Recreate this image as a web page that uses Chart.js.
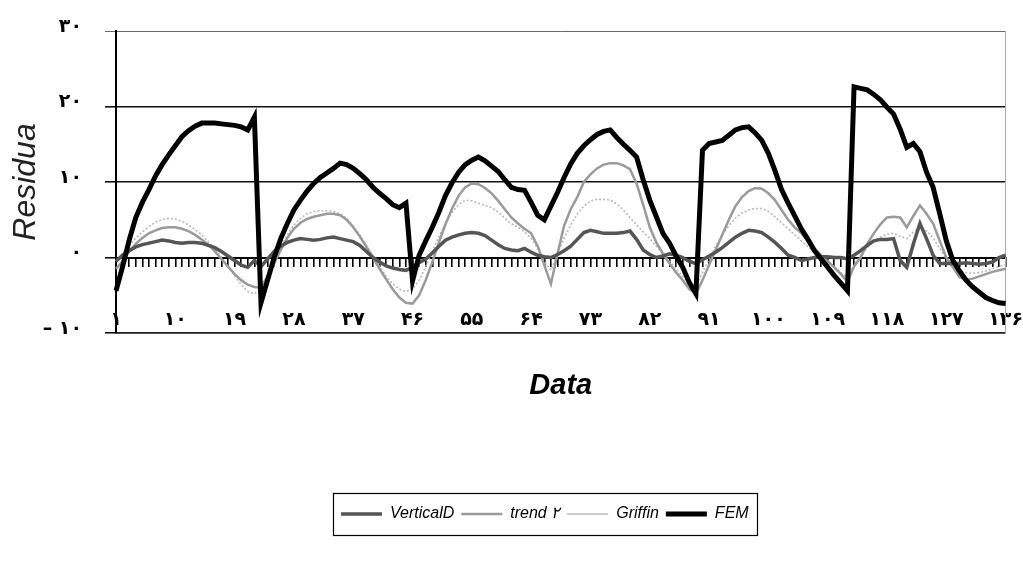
<!DOCTYPE html>
<html>
<head>
<meta charset="utf-8">
<script src="https://cdn.jsdelivr.net/npm/chart.js@4.4.0/dist/chart.umd.min.js"></script>
<style>
    html, body { margin: 0; padding: 0; background: #fff; }
    #wrap { width: 1023px; height: 582px; }
</style>
</head>
<body>
<div id="wrap"><canvas id="residualChart" width="1023" height="582"></canvas></div>
<script>
        // ── Dados ──
        const categories = Array.from({ length: 136 }, (_, i) => i + 1);
        const xTickLabels = ['۱', '۱۰', '۱۹', '۲۸', '۳۷', '۴۶', '۵۵', '۶۴', '۷۳', '۸۲', '۹۱', '۱۰۰', '۱۰۹', '۱۱۸', '۱۲۷', '۱۳۶'];
        const yTicks = [-10, 0, 10, 20, 30];
        const yTickLabels = ['– ۱۰', '۰', '۱۰', '۲۰', '۳۰'];

        const verticalD = [
            -0.5, 0.3, 0.9, 1.4, 1.7, 1.9, 2.1, 2.3, 2.2, 2.0,
            1.9, 2.0, 2.0, 1.9, 1.6, 1.3, 0.8, 0.2, -0.4, -1.0,
            -1.3, -0.4, -1.2, -0.2, 0.8, 1.5, 2.0, 2.3, 2.5, 2.4,
            2.3, 2.4, 2.6, 2.7, 2.5, 2.3, 2.1, 1.6, 0.8, 0,
            -0.6, -1.1, -1.4, -1.6, -1.7, -1.3, -0.7, -0.2, 0.6, 1.5,
            2.3, 2.7, 3.0, 3.2, 3.3, 3.2, 2.9, 2.3, 1.7, 1.2,
            1.0, 0.9, 1.2, 0.7, 0.3, 0.1, 0, 0.4, 0.9, 1.5,
            2.4, 3.3, 3.6, 3.4, 3.2, 3.2, 3.2, 3.3, 3.5, 2.4,
            1.0, 0.4, 0, 0.2, 0.5, 0.3, 0, -0.5, -0.8, -0.3,
            0.2, 0.7, 1.3, 2.0, 2.7, 3.2, 3.6, 3.5, 3.3, 2.7,
            2.0, 1.2, 0.3, 0, -0.4, -0.2, 0, 0.1, 0.1, 0,
            0, -0.2, 0.3, 0.9, 1.6, 2.2, 2.4, 2.4, 2.5, -0.4,
            -1.3, 1.8, 4.5, 2.5, 0.3, -0.8, -0.8, -0.8, -0.8, -0.7,
            -0.8, -0.9, -0.8, -0.6, 0, 0.3
        ];

        const trend2 = [
            -1.5, -0.5, 0.8, 1.8, 2.6, 3.2, 3.6, 3.9, 4.0, 4.0,
            3.8, 3.5, 3.0, 2.4, 1.7, 0.8, -0.2, -1.2, -2.2, -3.0,
            -3.6, -3.9, -4.0, -2.5, -0.8, 1.0, 2.6, 3.8, 4.6, 5.1,
            5.4, 5.6, 5.8, 5.8, 5.6, 5.0, 4.0, 2.8, 1.4, 0,
            -1.5, -2.9, -4.2, -5.3, -6.0, -6.1, -5.0, -3.0, -0.6, 2.0,
            4.4, 6.5, 8.2, 9.3, 9.8, 9.7, 9.2, 8.5, 7.5, 6.4,
            5.3, 4.5, 3.8, 3.2, 1.5, -1.0, -3.5, 0.5, 4.2, 6.4,
            8.0, 10.0, 11.0, 11.8, 12.3, 12.5, 12.5, 12.2, 11.7, 9.8,
            7.0, 4.0, 2.0, 0.5, -0.8, -2.0, -3.0, -4.2, -4.8, -3.0,
            -1.0, 1.0, 3.0, 5.0, 6.8, 8.0, 8.8, 9.2, 9.1, 8.5,
            7.6, 6.3, 5.0, 4.0, 3.2, 2.2, 1.2, 0.3, -0.5, -1.3,
            -2.2, -3.2, -1.2, 0, 1.8, 3.2, 4.4, 5.3, 5.4, 5.3,
            4.0, 5.5, 6.9, 5.8, 4.5, 2.2, 0, -1.3, -2.6, -2.9,
            -2.8, -2.5, -2.2, -1.9, -1.7, -1.5
        ];

        const griffin = [
            -0.5, 0.5, 1.6, 2.6, 3.4, 4.1, 4.7, 5.0, 5.2, 5.1,
            4.8, 4.3, 3.7, 3.0, 2.1, 1.1, 0, -1.2, -2.4, -3.6,
            -4.5, -4.8, -4.2, -2.6, -0.6, 1.4, 3.0, 4.3, 5.2, 5.8,
            6.1, 6.2, 6.2, 6.1, 5.8, 5.2, 4.2, 3.0, 1.6, 0.2,
            -1.2, -2.5, -3.5, -4.2, -4.5, -4.2, -3.0, -1.2, 0.8, 2.8,
            4.5, 6.0, 7.0, 7.6, 7.5, 7.2, 6.9, 6.6, 6.0, 5.2,
            4.5, 4.0, 3.4, 2.5, 1.2, -0.5, -1.7, 0.5, 2.6, 4.3,
            5.8, 6.8, 7.5, 7.7, 7.7, 7.6, 7.1, 6.3, 5.3, 4.3,
            3.4, 2.5, 1.5, 0.5, -0.5, -1.5, -2.5, -3.5, -3.8, -2.0,
            -0.2, 1.5, 3.0, 4.2, 5.2, 5.9, 6.3, 6.5, 6.5, 6.1,
            5.4, 4.6, 3.8, 3.0, 2.2, 1.4, 0.7, 0, -0.6, -1.2,
            -2.0, -2.6, -1.0, 0.3, 1.3, 2.1, 2.7, 3.1, 3.2, 2.8,
            2.5, 3.4, 4.0, 3.5, 2.6, 1.2, -0.2, -1.2, -1.8, -2.0,
            -2.1, -2.0, -1.8, -1.5, -1.2, -1.0
        ];

        const fem = [
            -4.4, -1.2, 2.3, 5.3, 7.3, 9.0, 10.8, 12.3, 13.6, 14.8,
            16, 16.8, 17.4, 17.8, 17.8, 17.8, 17.7, 17.6, 17.5, 17.3,
            16.9, 18.6, -6, -3, 0, 2.5, 4.5, 6.3, 7.6, 8.8,
            9.8, 10.6, 11.2, 11.8, 12.5, 12.3, 11.8, 11.1, 10.3, 9.3,
            8.5, 7.8, 7.0, 6.6, 7.2, -3.1, 0.3, 2.2, 4.0, 6.0,
            8.2, 9.9, 11.3, 12.3, 12.9, 13.3, 12.8, 12.1, 11.4, 10.3,
            9.3, 9.0, 8.9, 7.3, 5.6, 5.0, 6.8, 8.6, 10.6, 12.4,
            13.8, 14.8, 15.6, 16.3, 16.7, 16.9, 15.9, 15.0, 14.2, 13.3,
            10.3, 7.6, 5.4, 3.2, 1.9, 0.2, -1.3, -3.3, -4.8, 14.2,
            15.1, 15.3, 15.5, 16.2, 16.9, 17.2, 17.3, 16.5, 15.5, 13.8,
            11.5, 9.0, 7.2, 5.5, 3.8, 2.4, 0.9, -0.2, -1.3, -2.4,
            -3.4, -4.4, 22.6, 22.4, 22.2, 21.6, 20.9, 19.9, 19.0, 17.0,
            14.6, 15.1, 14.0, 11.3, 9.3, 5.8, 2.2, -0.4, -1.8, -3.0,
            -3.9, -4.6, -5.3, -5.7, -6.0, -6.1
        ];

        // ── Legenda: deslocamento e moldura ──
        const LEGEND_SHIFT = 16;
        const legendFrame = {
            id: 'legendFrame',
            afterUpdate(chart) {
                const lg = chart.legend;
                if (!lg || !lg.legendHitBoxes) return;
                lg.left -= LEGEND_SHIFT;
                lg.right -= LEGEND_SHIFT;
                lg.legendHitBoxes.forEach(b => { b.left -= LEGEND_SHIFT; });
            },
            afterDraw(chart) {
                const boxes = chart.legend && chart.legend.legendHitBoxes;
                if (!boxes || !boxes.length) return;
                const left = Math.min(...boxes.map(b => b.left)) - 8;
                const right = Math.max(...boxes.map(b => b.left + b.width)) + 8;
                const top = Math.min(...boxes.map(b => b.top)) - 13;
                const bottom = Math.max(...boxes.map(b => b.top + b.height)) + 13;
                const ctx = chart.ctx;
                ctx.save();
                ctx.strokeStyle = '#000';
                ctx.lineWidth = 1.2;
                ctx.strokeRect(Math.round(left) + 0.5, Math.round(top) + 0.5, Math.round(right - left), Math.round(bottom - top));
                ctx.restore();
            }
        };

        const tickFont = { family: 'DejaVu Sans', size: 19, weight: 'bold' };

        new Chart(document.getElementById('residualChart'), {
            type: 'line',
            data: {
                labels: categories,
                datasets: [
                    { label: 'VerticalD', data: verticalD, borderColor: '#555', borderWidth: 3.5, order: 1 },
                    { label: 'trend ۲', data: trend2, borderColor: '#9a9a9a', borderWidth: 2.5, order: 2 },
                    { label: 'Griffin', data: griffin, borderColor: '#b8b8b8', borderWidth: 1.6, borderDash: [2, 2], order: 3 },
                    { label: 'FEM', data: fem, borderColor: '#000', borderWidth: 5, order: 0 }
                ].map(ds => Object.assign(ds, { pointRadius: 0, pointStyle: 'line', tension: 0, fill: false }))
            },
            options: {
                responsive: false,
                animation: false,
                layout: { padding: { left: 0, right: 16, top: 31, bottom: 50 } },
                plugins: {
                    tooltip: { enabled: false },
                    legend: {
                        position: 'bottom',
                        fullSize: false,
                        labels: {
                            usePointStyle: true,
                            pointStyleWidth: 41,
                            padding: 7,
                            color: '#000',
                            font: { family: 'Liberation Sans', size: 16, style: 'italic' },
                            sort: (a, b) => a.datasetIndex - b.datasetIndex
                        }
                    }
                },
                scales: {
                    x: {
                        type: 'category',
                        position: 'bottom',
                        offset: false,
                        grid: { display: false, drawTicks: false },
                        border: { display: true, color: '#222', width: 1.5 },
                        ticks: { display: false },
                        title: {
                            display: true,
                            text: 'Data',
                            color: '#000',
                            font: { family: 'Liberation Sans', size: 29, style: 'italic', weight: 'bold' },
                            padding: { top: 0, bottom: 96 }
                        },
                        afterFit: scale => { scale.height = 166; }
                    },
                    xl: {
                        type: 'category',
                        axis: 'x',
                        position: { y: -6.8 },
                        offset: false,
                        grid: { display: false, drawTicks: false },
                        border: { display: false },
                        ticks: {
                            autoSkip: false,
                            maxRotation: 0,
                            padding: 0,
                            color: '#000',
                            font: tickFont,
                            callback: (v, i) => (i % 9 === 0 ? xTickLabels[i / 9] : '')
                        }
                    },
                    xt: {
                        type: 'category',
                        axis: 'x',
                        position: { y: 0 },
                        offset: false,
                        grid: { display: true, drawOnChartArea: false, drawTicks: true, tickLength: 8, color: '#000', lineWidth: 1.6, offset: false },
                        border: { display: true, color: '#000', width: 2 },
                        ticks: { display: false, autoSkip: false }
                    },
                    y: {
                        min: -10,
                        max: 30,
                        ticks: {
                            stepSize: 10,
                            padding: 23,
                            labelOffset: -4,
                            color: '#000',
                            font: tickFont,
                            callback: v => yTickLabels[yTicks.indexOf(v)]
                        },
                        grid: {
                            color: ctx => (ctx.tick && ctx.tick.value === 30 ? '#666' : '#111'),
                            lineWidth: ctx => (ctx.tick && ctx.tick.value === 30 ? 1 : 1.6),
                            tickLength: 11
                        },
                        border: { display: true, color: '#000', width: 2 },
                        title: {
                            display: true,
                            text: 'Residua',
                            color: '#222',
                            font: { family: 'Liberation Sans', size: 32, style: 'italic' },
                            padding: { top: 7, bottom: 0 }
                        },
                        afterFit: scale => {
                            scale.width = 116;
                            scale.paddingTop = 8;
                            scale.paddingBottom = 8;
                        }
                    },
                    y2: {
                        type: 'linear',
                        position: 'right',
                        grid: { display: false, drawTicks: false },
                        ticks: { display: false },
                        border: { display: true, color: '#aaa', dash: [1, 3], width: 1 }
                    }
                }
            },
            plugins: [legendFrame]
        });
</script>
</body>
</html>
